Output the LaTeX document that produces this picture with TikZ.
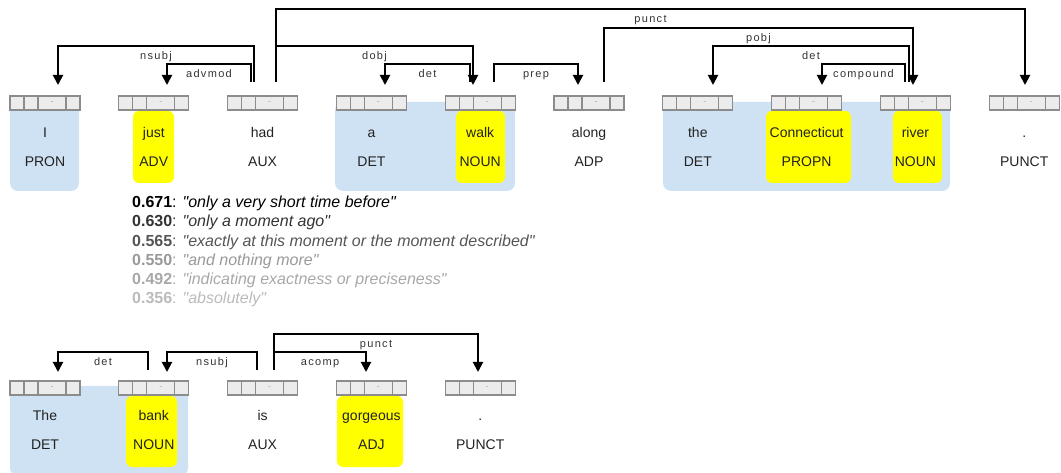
\documentclass[tikz,border=0pt]{standalone}
\usepackage{fontspec}
\setmainfont{Liberation Sans}[Ligatures=TeXOff]
\newfontfamily\lblfont[LetterSpace=12]{Liberation Sans}
\usetikzlibrary{arrows.meta,calc}

\definecolor{grpblue}{HTML}{CFE2F3}
\definecolor{hlyellow}{HTML}{FFFF00}
\definecolor{cellfill}{HTML}{ECECEC}
\definecolor{cellline}{HTML}{8C8C8C}
\definecolor{dashmark}{HTML}{C9A39A}
\definecolor{wordcol}{HTML}{222222}
\definecolor{labelcol}{HTML}{333333}
\definecolor{sense1}{HTML}{000000}
\definecolor{sense2}{HTML}{333333}
\definecolor{sense3}{HTML}{555555}
\definecolor{sense4}{HTML}{999999}
\definecolor{sense5}{HTML}{A8A8A8}
\definecolor{sense6}{HTML}{BBBBBB}

% dependency arc: head node, x offset, dependent node, x offset, level y, relation
\newcommand\deparc[6]{%
  \coordinate (lvl) at (0,#5);
  \draw[dep] ($(#1.north)+(#2,-\ystart)$) coordinate (arcA) -- (arcA |- lvl)
    -| ($(#3.north)+(#4,-\ytip)$) node[arclabel,pos=0.25] {#6};
}

\begin{document}
\begin{tikzpicture}[x=1bp,y=-1bp,
  strip/.style={draw=cellline, fill=cellfill, line width=1.3bp,
    minimum width=70bp, minimum height=14bp, inner sep=0pt, outer sep=0pt,
    path picture={
      \foreach \f in {0.2,0.4,0.8}
        \draw[cellline,line width=1.3bp]
          ($(path picture bounding box.south west)!\f!(path picture bounding box.south east)$) --
          ($(path picture bounding box.north west)!\f!(path picture bounding box.north east)$);
    }},
  dashtxt/.style={text=dashmark, inner sep=0pt, font=\fontsize{9bp}{9bp}\selectfont},
  word/.style={anchor=base, text=wordcol, inner sep=0pt, font=\fontsize{14bp}{16bp}\selectfont},
  group/.style={fill=grpblue, rounded corners=8bp},
  hl/.style={fill=hlyellow, rounded corners=6bp},
  dep/.style={draw=black, line width=2bp, line join=miter, -{Triangle[width=10bp,length=10bp]}},
  arclabel/.style={font=\lblfont\fontsize{11bp}{13bp}\selectfont, text=labelcol,
    inner sep=0pt, text height=8bp, text depth=2.5bp, yshift=-11bp},
  sense/.style={anchor=base west, inner sep=0pt, font=\fontsize{16bp}{19bp}\selectfont},
]
\useasboundingbox (0,0) rectangle (1061,473);

% ---------- first sentence ----------
% noun chunks
\fill[group] (10,102) rectangle (79,191);
\fill[group] (335,102) rectangle (515,191);
\fill[group] (663,102) rectangle (950,191);
% highlighted tokens
\fill[hl] (133,111) rectangle (174,183);
\fill[hl] (456,111) rectangle (505,183);
\fill[hl] (766,111) rectangle (851,183);
\fill[hl] (893,111) rectangle (942,183);

\foreach \i/\w/\p in {0/I/PRON, 1/just/ADV, 2/had/AUX, 3/a/DET, 4/walk/NOUN,
                      5/along/ADP, 6/the/DET, 7/Connecticut/PROPN, 8/river/NOUN, 9/./PUNCT}{
  \node[strip] (t\i) at (45+108.8*\i,103) {};
  \node[dashtxt] (d\i) at ($(t\i.west)!0.6!(t\i.east)$) {-};
  \node[word] (w\i) at (45+108.8*\i,138) {\w};
  \node[word] (p\i) at (45+108.8*\i,167) {\p};
}

\def\ystart{14}\def\ytip{11}
\deparc{t2}{-8.6}{t0}{13}{46}{nsubj}
\deparc{t2}{-11.6}{t1}{13.2}{64}{advmod}
\deparc{t2}{13.4}{t4}{-7.2}{46}{dobj}
\deparc{t2}{13.4}{t9}{0.8}{9}{punct}
\deparc{t4}{-10.2}{t3}{13.6}{64}{det}
\deparc{t4}{13.8}{t5}{-11}{64}{prep}
\deparc{t5}{15}{t8}{-2.4}{28}{pobj}
\deparc{t8}{-6.4}{t6}{15.2}{46}{det}
\deparc{t8}{-10.4}{t7}{15.4}{64}{compound}

% ---------- senses of "just" ----------
\node[sense,text=sense1] (s1) at (132,207.7) {\textbf{0.671}: \textit{"only a very short time before"}};
\node[sense,text=sense2] (s2) at (132,226.9) {\textbf{0.630}: \textit{"only a moment ago"}};
\node[sense,text=sense3] (s3) at (132,246.1) {\textbf{0.565}: \textit{"exactly at this moment or the moment described"}};
\node[sense,text=sense4] (s4) at (132,265.3) {\textbf{0.550}: \textit{"and nothing more"}};
\node[sense,text=sense5] (s5) at (132,284.5) {\textbf{0.492}: \textit{"indicating exactness or preciseness"}};
\node[sense,text=sense6] (s6) at (132,303.7) {\textbf{0.356}: \textit{"absolutely"}};

% ---------- second sentence ----------
\fill[group] (10,386) rectangle (188,476);
\fill[hl] (126,396) rectangle (177,467);
\fill[hl] (337,396) rectangle (403,467);

\foreach \i/\w/\p in {0/The/DET, 1/bank/NOUN, 2/is/AUX, 3/gorgeous/ADJ, 4/./PUNCT}{
  \node[strip] (b\i) at (45+108.8*\i,388) {};
  \node[dashtxt] (bd\i) at ($(b\i.west)!0.6!(b\i.east)$) {-};
  \node[word] (bw\i) at (45+108.8*\i,421) {\w};
  \node[word] (bp\i) at (45+108.8*\i,449) {\p};
}

\def\ystart{11}\def\ytip{9}
\deparc{b1}{-5.8}{b0}{13}{352}{det}
\deparc{b2}{-5.6}{b1}{13.2}{352}{nsubj}
\deparc{b2}{11.4}{b3}{-5.4}{352}{acomp}
\deparc{b2}{11.4}{b4}{-2.2}{334}{punct}
\end{tikzpicture}
\end{document}
